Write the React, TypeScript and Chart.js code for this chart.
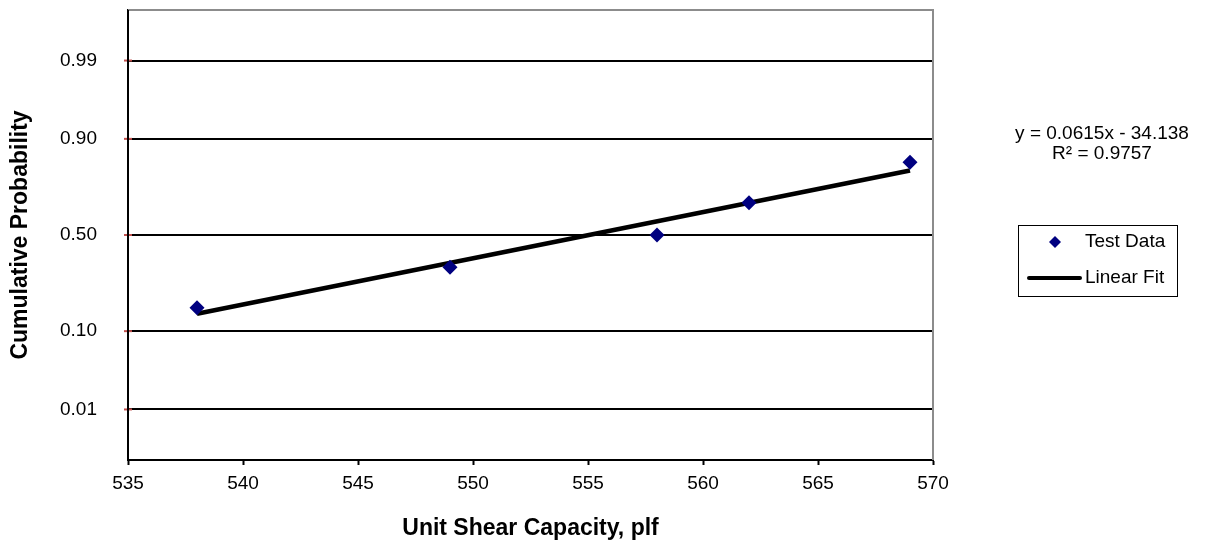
import React, { useEffect, useRef } from "react";
import { Chart, registerables } from "chart.js";

Chart.register(...registerables);

// ---- data ----
const capacity = [538, 549, 558, 562, 569];
const zScores = [-0.97, -0.43, 0, 0.43, 0.97];
const fitX = [538, 569];
const fitZ = [-1.05, 0.86];
const probTickZ = [-2.326, -1.282, 0, 1.282, 2.326];
const probTickLabels = ["0.01", "0.10", "0.50", "0.90", "0.99"];
const equationLines = ["y = 0.0615x - 34.138", "R\u00b2 = 0.9757"];
const legendLabels = ["Test Data", "Linear Fit"];
const xTitle = "Unit Shear Capacity, plf";
const yTitle = "Cumulative Probability";

const FONT = "Arial, 'Liberation Sans', sans-serif";
const NAVY = "#000080";
const TICK_RED = "#c0504d";

const extrasPlugin = {
  id: "extras",
  beforeDatasetsDraw(chart: any) {
    const { ctx, chartArea } = chart;
    const yScale = chart.scales.y;
    ctx.save();
    // gray top and right border
    ctx.strokeStyle = "#8c8c8c";
    ctx.lineWidth = 2;
    ctx.beginPath();
    ctx.moveTo(chartArea.left, chartArea.top);
    ctx.lineTo(chartArea.right, chartArea.top);
    ctx.lineTo(chartArea.right, chartArea.bottom);
    ctx.stroke();

    // red tick marks crossing the y axis
    ctx.strokeStyle = TICK_RED;
    ctx.lineWidth = 2;
    probTickZ.forEach((v) => {
      const py = yScale.getPixelForValue(v);
      ctx.beginPath();
      ctx.moveTo(chartArea.left - 4, py);
      ctx.lineTo(chartArea.left + 4, py);
      ctx.stroke();
    });
    // redraw the black y axis over the red ticks
    ctx.strokeStyle = "#000";
    ctx.beginPath();
    ctx.moveTo(chartArea.left, chartArea.top);
    ctx.lineTo(chartArea.left, chartArea.bottom);
    ctx.stroke();
    ctx.restore();
  },
  afterDraw(chart: any) {
    const { ctx } = chart;
    ctx.save();
    // equation text
    ctx.fillStyle = "#000";
    ctx.font = `19px ${FONT}`;
    ctx.textAlign = "center";
    ctx.textBaseline = "middle";
    ctx.fillText(equationLines[0], 1102, 134);
    ctx.fillText(equationLines[1], 1102, 153.5);

    // legend box
    const bx = 1018, by = 225, bw = 159, bh = 71;
    ctx.strokeStyle = "#000";
    ctx.lineWidth = 1;
    ctx.strokeRect(bx + 0.5, by + 0.5, bw, bh);
    // line sample
    const lx0 = 1029, lx1 = 1080, ly = 278;
    ctx.strokeStyle = "#000";
    ctx.lineWidth = 4;
    ctx.lineCap = "round";
    ctx.beginPath();
    ctx.moveTo(lx0, ly);
    ctx.lineTo(lx1, ly);
    ctx.stroke();
    // diamond centred above the line sample
    ctx.fillStyle = NAVY;
    const dx = 1055, dy = 242, r = 6;
    ctx.beginPath();
    ctx.moveTo(dx, dy - r);
    ctx.lineTo(dx + r, dy);
    ctx.lineTo(dx, dy + r);
    ctx.lineTo(dx - r, dy);
    ctx.closePath();
    ctx.fill();
    ctx.fillStyle = "#000";
    ctx.textAlign = "left";
    ctx.font = `19px ${FONT}`;
    ctx.fillText(legendLabels[0], 1085, 242);
    ctx.fillText(legendLabels[1], 1085, 277.5);
    ctx.restore();
  },
};

export default function App() {
  const ref = useRef<HTMLCanvasElement | null>(null);
  useEffect(() => {
    if (!ref.current) return;
    const chart = new Chart(ref.current, {
      type: "scatter",
      data: {
        datasets: [
          {
            label: legendLabels[1],
            data: fitX.map((x, i) => ({ x, y: fitZ[i] })),
            showLine: true,
            borderColor: "#000",
            borderWidth: 4.5,
            pointRadius: 0,
            order: 2,
          },
          {
            label: legendLabels[0],
            data: capacity.map((x, i) => ({ x, y: zScores[i] })),
            pointStyle: "rectRot",
            pointRadius: 7.5,
            backgroundColor: NAVY,
            borderColor: NAVY,
            borderWidth: 0,
            showLine: false,
            order: 1,
          },
        ],
      },
      options: {
        animation: false,
        responsive: false,
        maintainAspectRatio: false,
        layout: { padding: { top: 10, right: 274, left: 0, bottom: 0 } },
        plugins: { legend: { display: false }, tooltip: { enabled: false } },
        scales: {
          x: {
            type: "linear",
            min: 535,
            max: 570,
            afterFit: (s: any) => {
              s.height = 86;
              s.paddingLeft = 0;
              s.paddingRight = 0;
            },
            ticks: {
              stepSize: 5,
              color: "#000",
              font: { family: FONT, size: 19 },
              padding: 7,
              maxRotation: 0,
            },
            grid: {
              drawOnChartArea: false,
              drawTicks: true,
              tickLength: 5,
              tickColor: "#000",
              tickWidth: 2,
            },
            border: { display: true, color: "#000", width: 2 },
            title: {
              display: true,
              text: xTitle,
              color: "#000",
              font: { family: FONT, size: 23, weight: "bold" },
              padding: { top: 0, bottom: 4 },
            },
          },
          y: {
            type: "linear",
            min: -3,
            max: 3,
            afterFit: (s: any) => {
              s.width = 128;
              s.paddingTop = 0;
              s.paddingBottom = 0;
            },
            afterBuildTicks: (s: any) => {
              s.ticks = probTickZ.map((v) => ({ value: v }));
            },
            ticks: {
              color: "#000",
              font: { family: FONT, size: 19 },
              padding: 31,
              callback: (_v: any, i: number) => probTickLabels[i],
            },
            grid: {
              color: "#000",
              lineWidth: 2,
              drawTicks: false,
            },
            border: { display: true, color: "#000", width: 2 },
            title: {
              display: true,
              text: yTitle,
              color: "#000",
              font: { family: FONT, size: 23, weight: "bold" },
              padding: { top: 7, bottom: 0 },
            },
          },
        },
      },
      plugins: [extrasPlugin],
    });
    return () => chart.destroy();
  }, []);
  return (
    <div style={{ position: "fixed", left: 0, top: 0, width: 1207, height: 546, background: "#fff" }}>
      <canvas ref={ref} width={1207} height={546} style={{ width: 1207, height: 546, display: "block" }} />
    </div>
  );
}
